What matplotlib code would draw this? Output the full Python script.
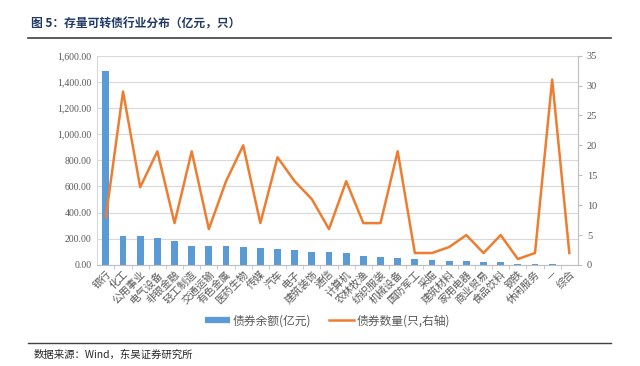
import numpy as np
import matplotlib.pyplot as plt
from matplotlib.ticker import FuncFormatter, MultipleLocator
from matplotlib.lines import Line2D

plt.rcParams['font.family'] = ['Noto Sans CJK SC', 'DejaVu Sans']

# industries (申万一级)
industries = ['银行', '化工', '公用事业', '电气设备', '非银金融', '轻工制造', '交通运输',
              '有色金属', '医药生物', '传媒', '汽车', '电子', '建筑装饰', '通信', '计算机',
              '农林牧渔', '纺织服装', '机械设备', '国防军工', '采掘', '建筑材料', '家用电器',
              '商业贸易', '食品饮料', '钢铁', '休闲服务', '—', '综合']
# outstanding balance (亿元)
balance = [1486, 222, 221, 206, 184, 145, 143, 143, 138, 128, 122, 112, 102, 97, 89,
           69, 59, 51, 43, 41, 31, 30, 23, 20, 10, 8, 5, 1]
# number of bonds (只)
count = [8, 29, 13, 19, 7, 19, 6, 14, 20, 7, 18, 14, 11, 6, 14,
         7, 7, 19, 2, 2, 3, 5, 2, 5, 1, 2, 31, 2]

blue = '#5B9BD5'
orange = '#ED7D31'
tick_col = '#595959'

fig = plt.figure(figsize=(6.4, 3.66), dpi=100)
ax = fig.add_axes([0.152, 0.276, 0.751, 0.572])
x = np.arange(len(industries))
ax.bar(x, balance, width=0.4, color=blue, zorder=2)
ax.set_ylim(0, 1600)
ax.set_xlim(-0.5, len(industries) - 0.5)
ax.yaxis.set_major_locator(MultipleLocator(200))
ax.yaxis.set_major_formatter(FuncFormatter(lambda v, p: '{:,.2f}'.format(v)))
ax.grid(axis='y', color='#D9D9D9', linewidth=0.8, zorder=0)
for s in ['top', 'right']:
    ax.spines[s].set_visible(False)
ax.spines['left'].set_color('#D9D9D9')
ax.spines['bottom'].set_color('#BFBFBF')
ax.tick_params(axis='y', length=0, labelsize=7, labelcolor=tick_col, pad=4)
ax.tick_params(axis='x', which='major', length=0, labelsize=7.5, labelcolor=tick_col, pad=3)
ax.tick_params(axis='x', which='minor', length=3, color='#BFBFBF')
ax.set_xticks(x)
ax.set_xticks(x[:-1] + 0.5, minor=True)
ax.set_xticklabels(industries, rotation=45, ha='right', va='top', rotation_mode='anchor')
for lab in ax.get_yticklabels():
    lab.set_family(['Liberation Serif', 'DejaVu Serif'])

ax2 = ax.twinx()
ax2.plot(x, count, color=orange, linewidth=1.8, zorder=3)
ax2.set_ylim(0, 35)
ax2.yaxis.set_major_locator(MultipleLocator(5))
for s in ['top', 'left', 'bottom']:
    ax2.spines[s].set_visible(False)
ax2.spines['right'].set_color('#BFBFBF')
ax2.tick_params(axis='y', length=3, color='#BFBFBF', labelsize=7.5, labelcolor=tick_col)
for lab in ax2.get_yticklabels():
    lab.set_family(['Liberation Serif', 'DejaVu Serif'])

# legend
handles = [Line2D([0], [0], color=blue, linewidth=4.5, solid_capstyle='butt'),
           Line2D([0], [0], color=orange, linewidth=1.8)]
fig.legend(handles, ['债券余额(亿元)', '债券数量(只,右轴)'], loc='center',
           bbox_to_anchor=(0.512, 0.123), ncol=2, frameon=False, fontsize=8.5,
           handlelength=2.1, handletextpad=0.25, columnspacing=1.5, labelcolor=tick_col)

# title and source
fig.text(0.048, 0.925, '图 5：存量可转债行业分布（亿元，只）', fontsize=8.5,
         fontweight='bold', color='#1F3864')
fig.add_artist(Line2D([0.044, 0.955], [0.897, 0.897], color='#404040', linewidth=1.2))
fig.add_artist(Line2D([0.044, 0.955], [0.063, 0.063], color='#404040', linewidth=1.0))
fig.text(0.052, 0.022, '数据来源：Wind，东吴证券研究所', fontsize=7.5, color='#262626')

fig.savefig('out.png', dpi=100)
